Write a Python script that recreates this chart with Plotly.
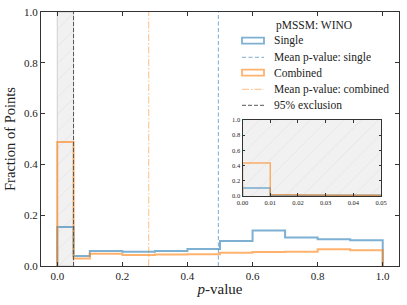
import plotly.graph_objects as go

# ---- data ----
bin_edges = [0.0, 0.05, 0.1, 0.2, 0.3, 0.4, 0.5, 0.6, 0.7, 0.8, 0.9, 1.0]
single_frac = [0.154, 0.039, 0.059, 0.056, 0.059, 0.067, 0.098, 0.140, 0.112, 0.105, 0.101]
combined_frac = [0.488, 0.030, 0.048, 0.043, 0.045, 0.046, 0.052, 0.055, 0.056, 0.066, 0.062]

inset_edges = [0.0, 0.01, 0.02, 0.03, 0.04, 0.05]
inset_single = [0.105, 0.008, 0.008, 0.011, 0.008]
inset_combined = [0.434, 0.014, 0.012, 0.010, 0.010]

mean_single = 0.495
mean_combined = 0.281
exclusion = 0.05

x_ticks = [0.0, 0.2, 0.4, 0.6, 0.8, 1.0]
y_ticks = [0.0, 0.2, 0.4, 0.6, 0.8, 1.0]
inset_x_ticks = [0.0, 0.01, 0.02, 0.03, 0.04, 0.05]

legend_title = "pMSSM: WINO"
legend_labels = ["Single", "Mean p-value: single", "Combined",
                 "Mean p-value: combined", "95% exclusion"]

# ---- styles ----
BLUE = "rgba(31,119,180,0.58)"
ORANGE = "rgba(255,127,14,0.6)"
MEAN_BLUE = "rgba(31,119,180,0.6)"
MEAN_ORANGE = "rgba(255,127,14,0.5)"
EXCL = "#555555"
FONT = "Liberation Serif"
W, H = 407, 305
ML, MR, MT, MB = 41, 8, 12, 39


def step_xy(edges, vals):
    xs, ys = [edges[0]], [0]
    for i, v in enumerate(vals):
        xs += [edges[i], edges[i + 1]]
        ys += [v, v]
    xs.append(edges[-1])
    ys.append(0)
    return xs, ys


def px2paper(px, py):
    return (px - ML) / (W - ML - MR), (H - MB - py) / (H - MT - MB)


fig = go.Figure()

hatch = dict(shape="/", fgcolor="#d4d4d4", size=12, solidity=0.06)
# shaded exclusion region (main)
fig.add_trace(go.Bar(x=[exclusion / 2], y=[1.0], width=[exclusion],
                     marker=dict(color="#f1f1f1", line=dict(color="#cfcfcf", width=1), pattern=hatch),
                     showlegend=False, hoverinfo="skip"))
# shaded region (inset)
fig.add_trace(go.Bar(x=[(inset_edges[0] + inset_edges[-1]) / 2], y=[1.0],
                     width=[inset_edges[-1] - inset_edges[0]],
                     marker=dict(color="#f1f1f1", line=dict(width=0), pattern=hatch),
                     xaxis="x2", yaxis="y2", showlegend=False, hoverinfo="skip"))

sx, sy = step_xy(bin_edges, single_frac)
cx, cy = step_xy(bin_edges, combined_frac)
fig.add_trace(go.Scatter(x=sx, y=sy, mode="lines", line=dict(color=BLUE, width=2), showlegend=False))
fig.add_trace(go.Scatter(x=cx, y=cy, mode="lines", line=dict(color=ORANGE, width=2), showlegend=False))

fig.add_trace(go.Scatter(x=[mean_single, mean_single], y=[0, 1], mode="lines",
                         line=dict(color=MEAN_BLUE, width=1, dash="4px,2.5px"), showlegend=False))
fig.add_trace(go.Scatter(x=[mean_combined, mean_combined], y=[0, 1], mode="lines",
                         line=dict(color=MEAN_ORANGE, width=1, dash="7px,2px,1.5px,2px"), showlegend=False))
fig.add_trace(go.Scatter(x=[exclusion, exclusion], y=[0, 1], mode="lines",
                         line=dict(color=EXCL, width=1, dash="4px,2px"), showlegend=False))

# inset steps
isx, isy = step_xy(inset_edges, inset_single)
icx, icy = step_xy(inset_edges, inset_combined)
fig.add_trace(go.Scatter(x=isx, y=isy, mode="lines", line=dict(color=BLUE, width=1.5),
                         xaxis="x2", yaxis="y2", showlegend=False))
fig.add_trace(go.Scatter(x=icx, y=icy, mode="lines", line=dict(color=ORANGE, width=1.5),
                         xaxis="x2", yaxis="y2", showlegend=False))

# ---- custom legend (matplotlib style, tight rows) ----
shapes, annotations = [], []
tx, ty = px2paper(314, 25)
annotations.append(dict(x=tx, y=ty, xref="paper", yref="paper", text=legend_title, showarrow=False,
                        xanchor="center", yanchor="middle", font=dict(family=FONT, size=11.5, color="#222")))
row_y = [40.7, 57.3, 72.7, 89.3, 105.3]
sym_x0, sym_x1, text_x = 242, 264, 272
sym_styles = [
    ("rect", BLUE, None),
    ("line", MEAN_BLUE, "4px,2.5px"),
    ("rect", ORANGE, None),
    ("line", MEAN_ORANGE, "7px,2px,1.5px,2px"),
    ("line", EXCL, "4px,2px"),
]
for label, ry, (kind, col, dash) in zip(legend_labels, row_y, sym_styles):
    if kind == "rect":
        x0, y0 = px2paper(sym_x0, ry + 3)
        x1, y1 = px2paper(sym_x1, ry - 3)
        shapes.append(dict(type="rect", xref="paper", yref="paper", x0=x0, y0=y0, x1=x1, y1=y1,
                           line=dict(color=col, width=1.8), fillcolor="rgba(0,0,0,0)"))
    else:
        x0, y0 = px2paper(sym_x0, ry)
        x1, _ = px2paper(sym_x1, ry)
        shapes.append(dict(type="line", xref="paper", yref="paper", x0=x0, y0=y0, x1=x1, y1=y0,
                           line=dict(color=col, width=1, dash=dash)))
    ax_, ay_ = px2paper(text_x, ry)
    annotations.append(dict(x=ax_, y=ay_, xref="paper", yref="paper", text=label, showarrow=False,
                            xanchor="left", yanchor="middle",
                            font=dict(family=FONT, size=11.5, color="#222")))

axis_common = dict(showline=True, linecolor="#333333", linewidth=1.2, mirror="ticks",
                   ticks="inside", tickcolor="#333333", showgrid=False, zeroline=False,
                   automargin=False)

fig.update_layout(
    width=W, height=H,
    margin=dict(l=ML, r=MR, t=MT, b=MB),
    paper_bgcolor="white", plot_bgcolor="white",
    barmode="overlay",
    showlegend=False,
    font=dict(family=FONT, color="#222222"),
    shapes=shapes, annotations=annotations,
    xaxis=dict(range=[-0.05, 1.05], tickvals=x_ticks, ticktext=[f"{v:.1f}" for v in x_ticks],
               ticklen=4, tickfont=dict(family=FONT, size=11),
               title=dict(text="<i>p</i>-value", font=dict(family=FONT, size=15), standoff=2),
               **axis_common),
    yaxis=dict(range=[0, 1], tickvals=y_ticks, ticktext=[f"{v:.1f}" for v in y_ticks],
               ticklen=4, tickfont=dict(family=FONT, size=11),
               title=dict(text="Fraction of Points", font=dict(family=FONT, size=14.5), standoff=4),
               **axis_common),
    xaxis2=dict(domain=[0.563, 0.950], anchor="y2", range=[0, 0.05], tickvals=inset_x_ticks,
                ticktext=[f"{v:.2f}" for v in inset_x_ticks], ticklen=2.5,
                tickfont=dict(family=FONT, size=6.5), **axis_common),
    yaxis2=dict(domain=[0.276, 0.575], anchor="x2", range=[0, 1], tickvals=y_ticks,
                ticktext=[f"{v:.1f}" for v in y_ticks], ticklen=2.5,
                tickfont=dict(family=FONT, size=6.5), **axis_common),
)

fig.write_html("out.html", config={"displayModeBar": False},
               post_script="document.body.style.margin='0';document.body.style.overflow='hidden';")
